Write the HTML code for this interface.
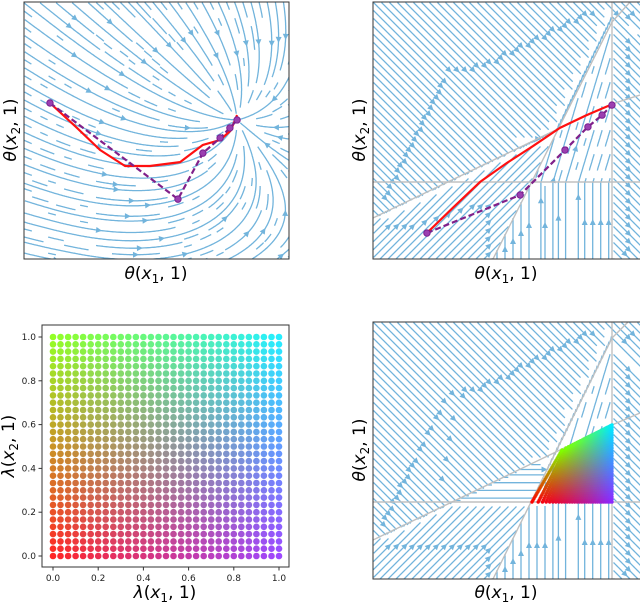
<!DOCTYPE html>
<html><head><meta charset="utf-8"><style>
body{margin:0;background:#fff;}
svg{display:block;font-family:"DejaVu Sans","Liberation Sans",sans-serif;}
</style></head><body>
<svg id="fig" width="640" height="602" viewBox="0 0 640 602" xmlns="http://www.w3.org/2000/svg">
<defs>
<clipPath id="c1"><rect x="24" y="2" width="265" height="257"/></clipPath>
<clipPath id="c2"><rect x="373" y="2" width="267" height="257"/></clipPath>
<clipPath id="c4"><rect x="373" y="322" width="267" height="257"/></clipPath>
</defs>
<g id="p1" clip-path="url(#c1)"></g>
<g id="p2" clip-path="url(#c2)"></g>
<g id="p3"></g>
<g id="p4" clip-path="url(#c4)"></g>
<rect x="24" y="2" width="265" height="257" fill="none" stroke="#333" stroke-width="1"/>
<rect x="373" y="2" width="268" height="257" fill="none" stroke="#333" stroke-width="1"/>
<rect x="42" y="325" width="247" height="242" fill="none" stroke="#333" stroke-width="1"/>
<rect x="373" y="322" width="268" height="257" fill="none" stroke="#333" stroke-width="1"/>
<text x="156" y="279" font-size="17" text-anchor="middle"><tspan font-style="italic">θ</tspan>(<tspan font-style="italic">x</tspan><tspan font-size="12" dy="4">1</tspan><tspan dy="-4">, 1)</tspan></text>
<text transform="translate(16,130) rotate(-90)" font-size="17" text-anchor="middle"><tspan font-style="italic">θ</tspan>(<tspan font-style="italic">x</tspan><tspan font-size="12" dy="4">2</tspan><tspan dy="-4">, 1)</tspan></text>
<text x="506" y="279" font-size="17" text-anchor="middle"><tspan font-style="italic">θ</tspan>(<tspan font-style="italic">x</tspan><tspan font-size="12" dy="4">1</tspan><tspan dy="-4">, 1)</tspan></text>
<text transform="translate(365,130) rotate(-90)" font-size="17" text-anchor="middle"><tspan font-style="italic">θ</tspan>(<tspan font-style="italic">x</tspan><tspan font-size="12" dy="4">2</tspan><tspan dy="-4">, 1)</tspan></text>
<text x="165" y="598" font-size="17" text-anchor="middle"><tspan font-style="italic">λ</tspan>(<tspan font-style="italic">x</tspan><tspan font-size="12" dy="4">1</tspan><tspan dy="-4">, 1)</tspan></text>
<text transform="translate(14,446) rotate(-90)" font-size="17" text-anchor="middle"><tspan font-style="italic">λ</tspan>(<tspan font-style="italic">x</tspan><tspan font-size="12" dy="4">2</tspan><tspan dy="-4">, 1)</tspan></text>
<text x="506" y="598" font-size="17" text-anchor="middle"><tspan font-style="italic">θ</tspan>(<tspan font-style="italic">x</tspan><tspan font-size="12" dy="4">1</tspan><tspan dy="-4">, 1)</tspan></text>
<text transform="translate(365,450) rotate(-90)" font-size="17" text-anchor="middle"><tspan font-style="italic">θ</tspan>(<tspan font-style="italic">x</tspan><tspan font-size="12" dy="4">2</tspan><tspan dy="-4">, 1)</tspan></text>
</svg>
<script>
// ---- data ----
const lambdaX = [];
const lambdaY = [];
for (let i = 0; i <= 30; i++) { lambdaX.push(i / 30); lambdaY.push(i / 30); }
const tickValues = [0.0, 0.2, 0.4, 0.6, 0.8, 1.0];
const tickLabels = ["0.0", "0.2", "0.4", "0.6", "0.8", "1.0"];
// trajectories in normalized panel coords (0..1, y up)
const tlRedX = [0.098, 0.20, 0.287, 0.381, 0.475, 0.589, 0.675, 0.740, 0.78, 0.804];
const tlRedY = [0.607, 0.51, 0.424, 0.362, 0.362, 0.377, 0.444, 0.463, 0.50, 0.560];
const tlPurX = [0.098, 0.581, 0.675, 0.740, 0.777, 0.804];
const tlPurY = [0.607, 0.233, 0.412, 0.471, 0.510, 0.541];
const trRedX = [0.202, 0.300, 0.401, 0.502, 0.600, 0.700, 0.800, 0.888];
const trRedY = [0.101, 0.200, 0.300, 0.374, 0.440, 0.510, 0.560, 0.599];
const trPurX = [0.202, 0.551, 0.719, 0.805, 0.858, 0.895];
const trPurY = [0.101, 0.249, 0.424, 0.514, 0.560, 0.599];

const NS = "http://www.w3.org/2000/svg";
function mk(tag, attrs, parent) {
  const e = document.createElementNS(NS, tag);
  for (const k in attrs) e.setAttribute(k, attrs[k]);
  parent.appendChild(e);
  return e;
}
const fig = document.getElementById('fig');
const SC = "#72b4dc";

function streams(g, x0, y0, w, h, field, cell) {
  const nx = Math.ceil(w / cell), ny = Math.ceil(h / cell);
  const occ = new Int32Array(nx * ny).fill(-1);
  let id = 0;
  const cidx = (x, y) => {
    const i = Math.floor((x - x0) / cell), j = Math.floor((y - y0) / cell);
    if (i < 0 || j < 0 || i >= nx || j >= ny) return -2;
    return j * nx + i;
  };
  function trace(sx, sy, dir, myid) {
    const pts = [];
    let x = sx, y = sy;
    for (let s = 0; s < 1500; s++) {
      const c = cidx(x, y);
      if (c === -2) break;
      if (occ[c] !== -1 && occ[c] !== myid) break;
      occ[c] = myid;
      pts.push([x, y]);
      const v = field(x, y);
      if (!v) break;
      x += v[0] * dir; y += v[1] * dir;
    }
    return pts;
  }
  for (let j = 0; j < ny; j++) for (let i = 0; i < nx; i++) {
    const c = j * nx + i;
    if (occ[c] !== -1) continue;
    const sx = x0 + (i + 0.5) * cell, sy = y0 + (j + 0.5) * cell;
    const myid = id++;
    const f = trace(sx, sy, 1, myid);
    occ[c] = -1;
    const b = trace(sx, sy, -1, myid);
    const pts = b.reverse().concat(f.slice(1));
    if (pts.length < 6) continue;
    const d = pts.map((p, k) => (k ? 'L' : 'M') + p[0].toFixed(1) + ' ' + p[1].toFixed(1)).join('');
    const path = mk('path', {d: d, fill: 'none', stroke: SC, 'stroke-width': 1.3}, g);
    
    
    if (pts.length < 30) continue;
    const m = Math.floor(pts.length / 2);
    const p = pts[m], q = pts[Math.min(m + 2, pts.length - 1)];
    let ax = q[0] - p[0], ay = q[1] - p[1];
    const L = Math.hypot(ax, ay) || 1; ax /= L; ay /= L;
    const tx = p[0] + ax * 3, ty = p[1] + ay * 3;
    const a = mk('polygon', {points: `${tx},${ty} ${tx - ax * 6 - ay * 3},${ty - ay * 6 + ax * 3} ${tx - ax * 6 + ay * 3},${ty - ay * 6 - ax * 3}`, fill: SC}, g);
    
    
  }
}
function nrm(x, y) { const l = Math.hypot(x, y); return l < 1e-6 ? null : [x / l, y / l]; }

// top-left field: sink
const S = [237, 120];
streams(document.getElementById('p1'), 24, 2, 265, 257, (x, y) => {
  const dx = S[0] - x, dy = S[1] - y, d = Math.hypot(dx, dy);
  if (d < 3) return null;
  const k = Math.min(d / 170, 1.2);
  return nrm(dx / d + 0.8 * k, dy / d + 0.8 * k);
}, 8);

function piece(y1, x2, hline, extraH) {
  return (x, y) => {
    if (x > 612) return nrm(1, 1);
    if (x < x2(y)) {
      if (y < y1(x)) return nrm(1, 1);
      if (extraH && y < hline) return [1, 0];
      return nrm(1, -1);
    }
    if (y > hline) return [0, -1];
    return nrm(0.3, -1);
  };
}
const y1a = x => 218 - 0.48 * (x - 373), x2a = y => 493 + (259 - y) * 0.49;
streams(document.getElementById('p2'), 373, 2, 267, 257, piece(y1a, x2a, 182, false), 8);
const y1b = x => 540 - 0.48 * (x - 373), x2b = y => 493 + (579 - y) * 0.49;
streams(document.getElementById('p4'), 373, 322, 267, 257, piece(y1b, x2b, 502, true), 8);

function grayLines(g, pts) {
  const d = pts.map((p, k) => (k ? 'L' : 'M') + p[0] + ' ' + p[1]).join('');
  const e = mk('path', {d: d, fill: 'none', stroke: '#c0c0c0', 'stroke-width': 1.4}, g);
  
  
}
const p2 = document.getElementById('p2'), p4 = document.getElementById('p4');
grayLines(p2, [[373, 218], [560, 128], [612, 104], [640, 95]]);
grayLines(p2, [[493, 259], [612, 22], [630, 2]]);
grayLines(p2, [[373, 182], [640, 182]]);
grayLines(p2, [[612, 2], [612, 259]]);
grayLines(p4, [[373, 540], [560, 450], [612, 425], [640, 413]]);
grayLines(p4, [[493, 579], [612, 338], [628, 322]]);
grayLines(p4, [[373, 502], [640, 502]]);
grayLines(p4, [[612, 322], [612, 579]]);

function corner(u, v) {
  const c00 = [255, 0, 0], c10 = [140, 40, 255], c01 = [128, 255, 0], c11 = [0, 235, 255];
  return c00.map((_, k) => Math.round(c00[k] * (1 - u) * (1 - v) + c10[k] * u * (1 - v) + c01[k] * (1 - u) * v + c11[k] * u * v));
}

// trajectories
function traj(g, xs, ys, ox, oy, w, h, color, dash, markers, name) {
  const d = xs.map((v, k) => (k ? 'L' : 'M') + (ox + v * w).toFixed(1) + ' ' + (oy + h - ys[k] * h).toFixed(1)).join('');
  const e = mk('path', {d: d, fill: 'none', stroke: color, 'stroke-width': 2.2, 'stroke-linejoin': 'round'}, g);
  if (dash) e.setAttribute('stroke-dasharray', '6 3');
  
  
  if (markers) xs.forEach((v, k) => {
    const c = mk('circle', {cx: ox + v * w, cy: oy + h - ys[k] * h, r: 3.2, fill: '#9b3fb0', stroke: '#7a1f90', 'stroke-width': 1}, g);
    
    
  });
}
const p1 = document.getElementById('p1');
traj(p1, tlRedX, tlRedY, 24, 2, 265, 257, '#ff1010', false, false, 'red-trajectory');
traj(p1, tlPurX, tlPurY, 24, 2, 265, 257, '#80208a', true, true, 'purple-trajectory');
traj(p2, trRedX, trRedY, 373, 2, 267, 257, '#ff1010', false, false, 'red-trajectory');
traj(p2, trPurX, trPurY, 373, 2, 267, 257, '#80208a', true, true, 'purple-trajectory');

// bottom-left scatter
const p3 = document.getElementById('p3');
const sx = v => 53 + v * 226, sy = v => 556 - v * 219;
lambdaY.forEach(v => lambdaX.forEach(u => {
  const c = corner(u, v);
  const e = mk('circle', {cx: sx(u).toFixed(1), cy: sy(v).toFixed(1), r: 3.3, fill: `rgb(${c})`, 'fill-opacity': 0.85}, p3);
  
  
}));
tickValues.forEach((t, k) => {
  const a = mk('line', {x1: sx(t), x2: sx(t), y1: 567, y2: 570.5, stroke: '#333'}, fig);
  
  
  const b = mk('text', {x: sx(t), y: 581, 'font-size': 9, 'text-anchor': 'middle', fill: '#222'}, fig);
  b.textContent = tickLabels[k];
  
  
  const c = mk('line', {x1: 38.5, x2: 42, y1: sy(t), y2: sy(t), stroke: '#333'}, fig);
  
  
  const d = mk('text', {x: 36, y: sy(t) + 3, 'font-size': 9, 'text-anchor': 'end', fill: '#222'}, fig);
  d.textContent = tickLabels[k];
  
  
});

// bottom-right mapped scatter
const Q00 = [532, 502], Q10 = [612, 502], Q01 = [562, 450], Q11 = [612, 425];
lambdaY.forEach(v => lambdaX.forEach(u => {
  const uu = Math.pow(u, 0.75);
  const x = Q00[0] * (1 - uu) * (1 - v) + Q10[0] * uu * (1 - v) + Q01[0] * (1 - uu) * v + Q11[0] * uu * v;
  const y = Q00[1] * (1 - uu) * (1 - v) + Q10[1] * uu * (1 - v) + Q01[1] * (1 - uu) * v + Q11[1] * uu * v;
  const c = corner(u, v);
  const e = mk('circle', {cx: x.toFixed(1), cy: y.toFixed(1), r: 1.7, fill: `rgb(${c})`}, p4);
  
  
}));
</script>
</body></html>
